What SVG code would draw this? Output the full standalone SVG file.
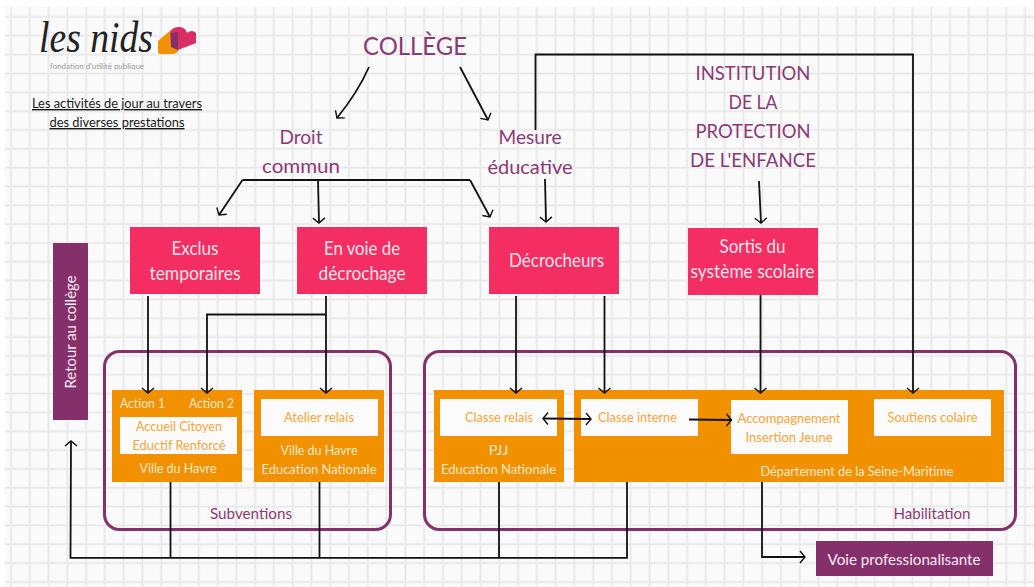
<svg xmlns="http://www.w3.org/2000/svg" width="1034" height="587" viewBox="0 0 1034 587">
<style>
text{font-family:"Lato","Noto Sans","Liberation Sans",sans-serif;text-anchor:middle}
.h{fill:#8a3a74;font-size:21px}
.p{fill:#fde3e9;font-size:18.500px}
.o{fill:#fce9c9;font-size:14px}
.w{fill:#f8a53a;font-size:14px}
.l{fill:#8a3a74;font-size:15px}
.t{fill:#1a1a1a;font-size:14px;text-decoration:underline}
.pk{fill:#f42e63}.or{fill:#f29100}.pu{fill:#85306b}.wh{fill:#fbfbfb}
.fr{fill:none;stroke:#85306b;stroke-width:3}
.c path{fill:none;stroke:#111;stroke-width:1.8}
.a{marker-end:url(#v)}
.b{marker-end:url(#v);marker-start:url(#vs)}
</style>
<defs>
<pattern id="g" patternUnits="userSpaceOnUse" x="1.61" y="7.58" width="18.78" height="18.83">
<path d="M9.39 0V18.83M0 9.415H18.78" stroke="#f3f3f3" stroke-width="3" fill="none"/>
<path d="M9.39 0V18.83M0 9.415H18.78" stroke="#e7e7e7" stroke-width="1" fill="none"/>
</pattern>
<marker id="v" markerUnits="userSpaceOnUse" markerWidth="14" markerHeight="14" refX="8" refY="7" orient="auto" viewBox="0 0 14 14">
<path d="M3 1L8 7L3 13" fill="none" stroke="#111" stroke-width="1.4"/>
</marker>
<marker id="vs" markerUnits="userSpaceOnUse" markerWidth="14" markerHeight="14" refX="6" refY="7" orient="auto" viewBox="0 0 14 14">
<path d="M11 1L6 7L11 13" fill="none" stroke="#111" stroke-width="1.4"/>
</marker>
</defs>
<rect width="1034" height="587" fill="#fff"/>
<rect x="5" y="7" width="1029" height="580" fill="#fafafa"/>
<rect x="5" y="7" width="1029" height="580" fill="url(#g)"/>

<g id="logo">
<text x="96" y="52" textLength="114" lengthAdjust="spacingAndGlyphs" style="font-family:'Liberation Serif',serif;font-style:italic;font-size:44px;fill:#222">les nids</text>
<text x="97" y="69" textLength="94" lengthAdjust="spacingAndGlyphs" style="font-size:7.5px;fill:#999">fondation d'utilité publique</text>
<path d="M158 41L171 30H178V52L174 54H160Q158 54 158 52Z" fill="#f29100"/>
<path d="M170 33Q172 26 180 27Q186 28 187 33Q192 29 196 33V43L178 50L171 46Z" fill="#d92d63"/>
<path d="M171 33L178 32V50L171 47Z" fill="#85306b"/>
</g>
<g id="title">
<text class="t" x="117" y="108" textLength="170" lengthAdjust="spacingAndGlyphs">Les activités de jour au travers</text>
<text class="t" x="117" y="127" textLength="135" lengthAdjust="spacingAndGlyphs">des diverses prestations</text>
</g>
<g id="college"><text class="h" x="415" y="55" textLength="104" lengthAdjust="spacingAndGlyphs" style="font-size:25px">COLLÈGE</text></g>
<g id="droit-commun">
<text class="h" x="301" y="144" textLength="43" lengthAdjust="spacingAndGlyphs" style="font-size:20px">Droit</text>
<text class="h" x="301" y="173" textLength="78" lengthAdjust="spacingAndGlyphs" style="font-size:20px">commun</text>
</g>
<g id="mesure-educative">
<text class="h" x="530" y="144" textLength="63" lengthAdjust="spacingAndGlyphs" style="font-size:20px">Mesure</text>
<text class="h" x="530" y="174" textLength="85" lengthAdjust="spacingAndGlyphs" style="font-size:20px">éducative</text>
</g>
<g id="institution">
<text class="h" x="753" y="80" textLength="115" lengthAdjust="spacingAndGlyphs" style="font-size:20px">INSTITUTION</text>
<text class="h" x="753" y="109" textLength="49" lengthAdjust="spacingAndGlyphs" style="font-size:20px">DE LA</text>
<text class="h" x="753" y="138" textLength="115" lengthAdjust="spacingAndGlyphs" style="font-size:20px">PROTECTION</text>
<text class="h" x="753" y="167" textLength="126" lengthAdjust="spacingAndGlyphs" style="font-size:20px">DE L'ENFANCE</text>
</g>
<g id="exclus">
<rect class="pk" x="130" y="227" width="130" height="67"/>
<text class="p" x="195" y="254.500" textLength="47" lengthAdjust="spacingAndGlyphs">Exclus</text>
<text class="p" x="195" y="279.500" textLength="91" lengthAdjust="spacingAndGlyphs">temporaires</text>
</g>
<g id="en-voie">
<rect class="pk" x="297" y="227" width="130" height="67"/>
<text class="p" x="362" y="254.500" textLength="76" lengthAdjust="spacingAndGlyphs">En voie de</text>
<text class="p" x="362" y="279.500" textLength="87" lengthAdjust="spacingAndGlyphs">décrochage</text>
</g>
<g id="decrocheurs">
<rect class="pk" x="489" y="227" width="130" height="67"/>
<text class="p" x="556.500" y="266.500" textLength="95" lengthAdjust="spacingAndGlyphs">Décrocheurs</text>
</g>
<g id="sortis">
<rect class="pk" x="688" y="228" width="130" height="67"/>
<text class="p" x="752.500" y="252.500" textLength="66" lengthAdjust="spacingAndGlyphs">Sortis du</text>
<text class="p" x="752.500" y="277.500" textLength="124" lengthAdjust="spacingAndGlyphs">système scolaire</text>
</g>
<g id="retour">
<rect class="pu" x="53" y="243" width="35" height="177"/>
<text transform="translate(76 332) rotate(-90)" x="0" y="0" textLength="113" lengthAdjust="spacingAndGlyphs" style="fill:#fbe9f2;font-size:16px">Retour au collège</text>
</g>
<g id="subventions">
<rect class="fr" x="104.500" y="351.500" width="286" height="178" rx="15"/>
<text class="l" x="251" y="519" textLength="82" lengthAdjust="spacingAndGlyphs">Subventions</text>
</g>
<g id="habilitation">
<rect class="fr" x="424.500" y="351.500" width="591" height="178" rx="15"/>
<text class="l" x="932" y="519" textLength="77" lengthAdjust="spacingAndGlyphs">Habilitation</text>
</g>
<g id="ville-havre">
<rect class="or" x="112" y="390" width="130" height="92"/>
<text class="o" x="142.500" y="408" textLength="45" lengthAdjust="spacingAndGlyphs">Action 1</text>
<text class="o" x="211.500" y="408" textLength="45" lengthAdjust="spacingAndGlyphs">Action 2</text>
<rect class="wh" x="120" y="417" width="117" height="37"/>
<text class="w" x="179" y="431" textLength="86" lengthAdjust="spacingAndGlyphs">Accueil Citoyen</text>
<text class="w" x="179" y="450" textLength="93" lengthAdjust="spacingAndGlyphs">Eductif Renforcé</text>
<text class="o" x="178" y="473" textLength="77" lengthAdjust="spacingAndGlyphs">Ville du Havre</text>
</g>
<g id="atelier">
<rect class="or" x="254" y="390" width="130" height="92"/>
<rect class="wh" x="261" y="399" width="117" height="37"/>
<text class="w" x="319" y="422" textLength="70" lengthAdjust="spacingAndGlyphs">Atelier relais</text>
<text class="o" x="319" y="455" textLength="77" lengthAdjust="spacingAndGlyphs">Ville du Havre</text>
<text class="o" x="319" y="474" textLength="115" lengthAdjust="spacingAndGlyphs">Education Nationale</text>
</g>
<g id="classe-relais">
<rect class="or" x="434" y="390" width="130" height="92"/>
<rect class="wh" x="440" y="399" width="117" height="37"/>
<text class="w" x="499" y="422" textLength="68" lengthAdjust="spacingAndGlyphs">Classe relais</text>
<text class="o" x="498.500" y="455" textLength="19.500" lengthAdjust="spacingAndGlyphs">PJJ</text>
<text class="o" x="498.500" y="474" textLength="115" lengthAdjust="spacingAndGlyphs">Education Nationale</text>
</g>
<g id="departement">
<rect class="or" x="574" y="390" width="430" height="92"/>
<rect class="wh" x="581" y="399" width="117" height="37"/>
<text class="w" x="637.500" y="422" textLength="79" lengthAdjust="spacingAndGlyphs">Classe interne</text>
<rect class="wh" x="731" y="400" width="117" height="54"/>
<text class="w" x="789" y="423" textLength="103" lengthAdjust="spacingAndGlyphs">Accompagnement</text>
<text class="w" x="789" y="442" textLength="87" lengthAdjust="spacingAndGlyphs">Insertion Jeune</text>
<rect class="wh" x="874" y="399" width="117" height="37"/>
<text class="w" x="932.500" y="422" textLength="90" lengthAdjust="spacingAndGlyphs">Soutiens colaire</text>
<text class="o" x="857" y="476" textLength="193" lengthAdjust="spacingAndGlyphs">Département de la Seine-Maritime</text>
</g>
<g id="voie-pro">
<rect class="pu" x="816" y="541" width="177" height="35"/>
<text x="904" y="565" textLength="153" lengthAdjust="spacingAndGlyphs" style="fill:#fbe9f2;font-size:16px">Voie professionalisante</text>
</g>
<g id="connectors" class="c">
<path class="a" d="M369 67Q358 92 337 118"/>
<path class="a" d="M460 67L488 120"/>
<path class="a" d="M535.500 130V54.500H913V393"/>
<path class="a" d="M242.500 180L219 215"/>
<path d="M242.500 180H470"/>
<path class="a" d="M470 180L490 217"/>
<path class="a" d="M318 180L319 223"/>
<path class="a" d="M545 179L546 222"/>
<path class="a" d="M759 181L761 223"/>
<path class="a" d="M148 296V393"/>
<path class="a" d="M326 296V393"/>
<path class="a" d="M326 314.500H207V393"/>
<path class="a" d="M516 296V393"/>
<path class="a" d="M604.500 296V393"/>
<path class="a" d="M760.500 295V393"/>
<path d="M170.500 482V558M319.500 482V558M499 482V558"/>
<path class="a" d="M627 482V557.800H70.500L71 441"/>
<path class="a" d="M762 482V557H805"/>
<path class="b" d="M543 418.500L591 419"/>
<path class="a" d="M689 419.500L731.500 420"/>
</g>
</svg>
